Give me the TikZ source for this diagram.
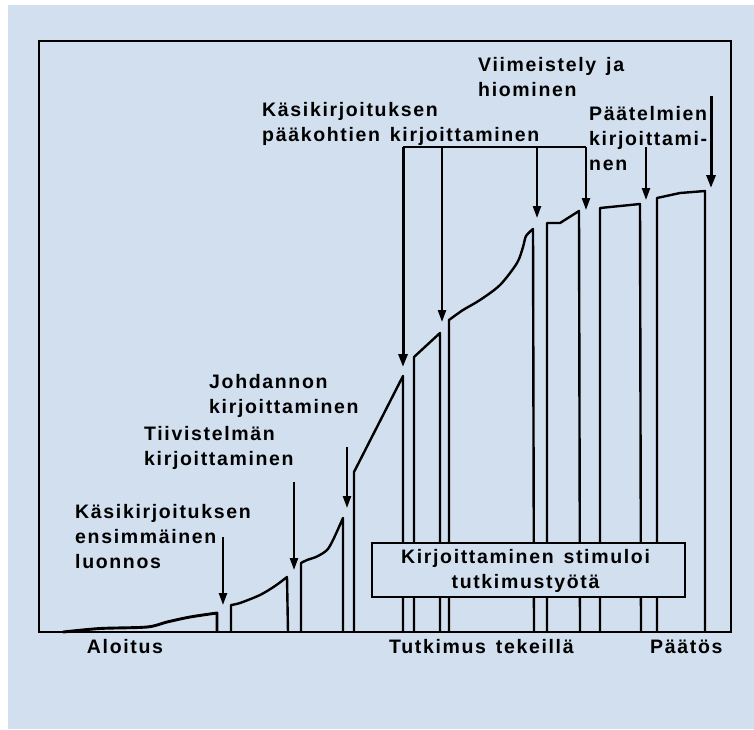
\documentclass[tikz,border=0pt]{standalone}
\usepackage{fontspec}
\setmainfont{Liberation Sans}[LetterSpace=8.5,WordSpace=1.4]
\usetikzlibrary{arrows.meta}
\definecolor{bg}{RGB}{210,223,238}
\begin{document}
\begin{tikzpicture}[x=1pt,y=-1pt,
  lbl/.style={font=\fontsize{19.5}{25}\selectfont\bfseries, inner sep=0pt, anchor=base west},
  clbl/.style={font=\fontsize{19.5}{25}\selectfont\bfseries, inner sep=0pt, anchor=base},
  curve/.style={line width=2.4pt, line join=round},
  arr/.style={line width=2.2pt, -{Triangle[length=12pt,width=8pt]}},
  bigarr/.style={line width=3pt, -{Triangle[length=13pt,width=9pt]}},
  frame/.style={line width=2.2pt}]
\fill[white] (0,0) rectangle (754,729);
\fill[bg] (8,5) rectangle (754,729);
\useasboundingbox (0,0) rectangle (754,729);
% frame
\draw[frame] (39,41) rectangle (731,632);
% curve segments
\draw[curve, line width=2.9pt] plot[smooth,tension=.5] coordinates {(63,632) (100,628.5) (147,627) (167,622) (190,617) (217,613)} -- (217,632);
\draw[curve] (231,632) -- plot[smooth,tension=.5] coordinates {(231,605) (240,603) (260,595) (275,586) (287,577)} -- (288,632);
\draw[curve] (301,632) -- plot[smooth,tension=.5] coordinates {(301,563) (307,560) (317,556.5) (327,550) (333,540) (343,518)} -- (343,632);
\draw[curve] (354,632) -- (354,472) -- (403,376) -- (403,632);
\draw[curve] (414,632) -- (414,357) -- (440,333) -- (440,632);
\draw[curve] (449,632) -- plot[smooth,tension=.5] coordinates {(449,320) (463,310) (480,300) (500,285) (517,263) (523,247) (526,236) (533,229)} -- (534,632);
\draw[curve] (547,632) -- (547,223) -- (560,223) -- (579,211) -- (580,632);
\draw[curve] (600,632) -- (600,208) -- (640,204) -- (641,632);
\draw[curve] (657,632) -- (657,198) -- (680,193) -- (705,191) -- (705,632);
% box
\node[draw, line width=1.8pt, fill=bg, minimum width=313pt, minimum height=54pt, inner sep=0pt] (box) at (528.5,570) {};
\node[clbl] (boxtxt) at (525.5,563.5) {\begin{tabular}[t]{@{}c@{}}Kirjoittaminen stimuloi\\tutkimustyötä\end{tabular}};
% labels
\node[lbl] (l1) at (75,518.5) {\begin{tabular}[t]{@{}l@{}}Käsikirjoituksen\\ensimmäinen\\luonnos\end{tabular}};
\node[lbl] (l2) at (144,440.5) {\begin{tabular}[t]{@{}l@{}}Tiivistelmän\\kirjoittaminen\end{tabular}};
\node[lbl] (l3) at (209,388.5) {\begin{tabular}[t]{@{}l@{}}Johdannon\\kirjoittaminen\end{tabular}};
\node[lbl] (l4) at (262,116.5) {\begin{tabular}[t]{@{}l@{}}Käsikirjoituksen\\pääkohtien kirjoittaminen\end{tabular}};
\node[lbl] (l5) at (478,71.5) {\begin{tabular}[t]{@{}l@{}}Viimeistely ja\\hiominen\end{tabular}};
\node[lbl] (l6) at (589,120.5) {\begin{tabular}[t]{@{}l@{}}Päätelmien\\kirjoittami-\\nen\end{tabular}};
\node[clbl] (start) at (125,653.5) {Aloitus};
\node[lbl] (mid) at (389,653.5) {Tutkimus tekeillä};
\node[lbl] (end) at (650,653.5) {Päätös};
% arrow coordinates
\coordinate (a1s) at (223,537); \coordinate (a1e) at (223,605);
\coordinate (a2s) at (294,482); \coordinate (a2e) at (294,570);
\coordinate (a3s) at (347,447); \coordinate (a3e) at (347,508);
\coordinate (b1) at (403,147); \coordinate (b2) at (442,147);
\coordinate (b3) at (537,147); \coordinate (b4) at (586,147);
\coordinate (a4e) at (403,367); \coordinate (a5e) at (442,322);
\coordinate (a6e) at (537,218); \coordinate (a7e) at (586,210);
\coordinate (a8s) at (646,147); \coordinate (a8e) at (646,200);
\coordinate (a9s) at (711,96); \coordinate (a9e) at (711,188);
\draw[arr] (a1s) -- (a1e);
\draw[arr] (a2s) -- (a2e);
\draw[arr] (a3s) -- (a3e);
\draw[line width=2.2pt] (b1) -- (b4);
\draw[bigarr] (b1) -- (a4e);
\draw[arr] (b2) -- (a5e);
\draw[arr] (b3) -- (a6e);
\draw[arr] (b4) -- (a7e);
\draw[arr] (a8s) -- (a8e);
\draw[bigarr] (a9s) -- (a9e);
\end{tikzpicture}
\end{document}
